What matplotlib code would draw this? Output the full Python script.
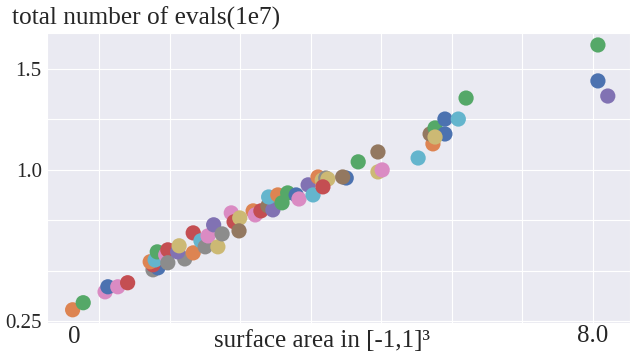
import matplotlib
matplotlib.use("Agg")
import matplotlib.pyplot as plt
import seaborn as sns

# surface area vs total evals
area = [0.62, 0.77, 1.08, 1.12, 1.26, 1.40, 1.86, 1.76, 1.83, 1.76, 1.72,
        1.79, 1.82, 1.94, 1.97, 1.97, 2.21, 2.11, 2.13, 2.33, 2.33, 2.44,
        2.50, 2.54, 2.62, 2.68, 2.74, 2.87, 2.91, 2.99, 2.98, 3.18,
        3.21, 3.29, 3.39, 3.46, 3.40, 3.53, 3.59, 3.67, 3.79, 3.83,
        3.96, 4.03, 4.10, 4.16, 4.21, 4.24, 4.17, 4.50, 4.45, 4.67,
        4.95, 4.95, 5.01, 5.52, 5.73, 5.69, 5.76, 5.90, 5.76, 5.90,
        6.09, 6.20, 8.07, 8.07, 8.21]
evals = [0.307, 0.342, 0.396, 0.421, 0.421, 0.441, 0.554, 0.505, 0.515, 0.530, 0.545,
         0.554, 0.594, 0.579, 0.604, 0.540, 0.559, 0.594, 0.624, 0.589, 0.688, 0.649,
         0.619, 0.673, 0.728, 0.619, 0.683, 0.787, 0.743, 0.762, 0.698, 0.797,
         0.777, 0.797, 0.822, 0.802, 0.866, 0.876, 0.837, 0.886, 0.876, 0.856,
         0.926, 0.876, 0.965, 0.950, 0.960, 0.955, 0.916, 0.960, 0.965, 1.040,
         1.089, 0.990, 1.000, 1.059, 1.129, 1.178, 1.208, 1.178, 1.163, 1.252,
         1.252, 1.356, 1.619, 1.441, 1.366]
# colour index into the seaborn "deep" palette for each point
cidx = [1, 2, 6, 0, 6, 3, 0, 7, 0, 3, 1,
        9, 2, 6, 3, 7, 7, 4, 8, 1, 3, 9,
        7, 6, 4, 8, 7, 6, 3, 8, 5, 1,
        6, 3, 5, 4, 9, 1, 2, 2, 0, 6,
        4, 9, 1, 8, 7, 8, 3, 0, 5, 2,
        5, 8, 6, 9, 1, 5, 2, 0, 8, 0,
        9, 2, 2, 0, 4]

yticks = [0.25, 0.5, 0.75, 1.0, 1.25, 1.5]
ylabels = ["0.25", "", "", "1.0", "", "1.5"]
xticks = [1, 2, 3, 4, 5, 6, 7, 8]
xlabels = ["", "", "", "", "", "", "", "8.0"]

sns.set_style("darkgrid")
plt.rcParams["font.family"] = ["Liberation Serif", "DejaVu Serif"]

pal = sns.color_palette("deep")
fig = plt.figure(figsize=(6.3, 3.6), dpi=100)
ax = fig.add_axes([0.075, 0.1036, 0.925, 0.804])

ax.scatter(area, evals, c=[pal[i] for i in cidx], s=120, linewidths=0, zorder=3)

ax.set_xlim(0.26, 8.525)
ax.set_ylim(0.243, 1.677)
ax.set_yticks(yticks)
ax.set_yticklabels(ylabels, fontsize=15)
ax.set_xticks(xticks)
ax.set_xticklabels(xlabels, fontsize=18)
ax.tick_params(axis="y", length=0, pad=4)
ax.tick_params(axis="x", length=0, pad=2)

fig.text(74 / 630, 1 - 337 / 360, "0", fontsize=18, ha="center", va="center")
fig.text(322 / 630, 1 - 341 / 360, "surface area in [-1,1]³", fontsize=18,
         ha="center", va="center")
fig.text(12 / 630, 1 - 18 / 360, "total number of evals(1e7)", fontsize=18.3,
         ha="left", va="center")

fig.savefig("out.png", dpi=100)
